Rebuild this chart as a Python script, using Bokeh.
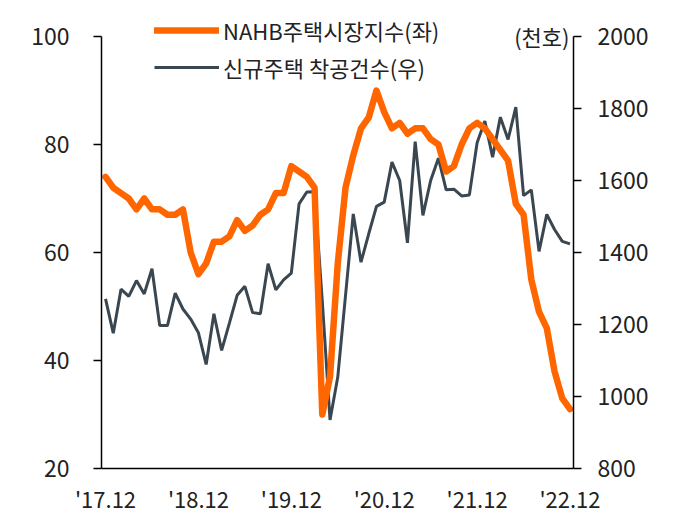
from bokeh.plotting import figure
from bokeh.models import (Range1d, LinearAxis, FixedTicker, Legend, LegendItem, Label)
from bokeh.embed import file_html
from bokeh.resources import INLINE

# NAHB housing market index (left axis)
nahb = [74, 72, 71, 70, 68, 70, 68, 68, 67, 67, 68, 60, 56,
        58, 62, 62, 63, 66, 64, 65, 67, 68, 71, 71, 76,
        75, 74, 72, 30, 37, 58, 72, 78, 83, 85, 90, 86,
        83, 84, 82, 83, 83, 81, 80, 75, 76, 80, 83, 84,
        83, 81, 79, 77, 69, 67, 55, 49, 46, 38, 33, 31]

# New housing starts, thousand units (right axis)
starts = [1271, 1176, 1298, 1278, 1322, 1285, 1355, 1197, 1197, 1287, 1243, 1215, 1177,
          1089, 1230, 1128, 1204, 1281, 1306, 1233, 1230, 1369, 1296, 1324, 1343,
          1535, 1568, 1569, 1265, 935, 1054, 1280, 1507, 1373, 1452, 1528, 1540,
          1651, 1600, 1427, 1708, 1503, 1600, 1662, 1574, 1576, 1557, 1560, 1705,
          1765, 1665, 1776, 1714, 1804, 1558, 1574, 1403, 1506, 1464, 1431, 1424]

x_idx = list(range(len(nahb)))
tick_pos = [0, 12, 24, 36, 48, 60]
tick_labels = ["'17.12", "'18.12", "'19.12", "'20.12", "'21.12", "'22.12"]
left_ticks = [20, 40, 60, 80, 100]
right_ticks = [800, 1000, 1200, 1400, 1600, 1800, 2000]

series_names = ["NAHB주택시장지수(좌)", "신규주택 착공건수(우)"]
unit_label = "(천호)"

FONT = "Noto Sans CJK KR"
ORANGE = "#FF6600"
GRAY = "#3B4750"
TXT = "#222222"

p = figure(width=673, height=518, output_backend="svg", toolbar_location=None,
           x_range=Range1d(-0.52, 60.45), y_range=Range1d(20, 106.67),
           min_border_left=101, min_border_right=100, min_border_top=0,
           min_border_bottom=50, y_axis_location="left")
p.extra_y_ranges = {"right": Range1d(800, 2100)}
p.outline_line_color = None
p.xgrid.visible = False
p.ygrid.visible = False
p.background_fill_color = "white"
p.border_fill_color = "white"

r_gray = p.line(x_idx, starts, y_range_name="right", line_color=GRAY, line_width=3)
r_or = p.line(x_idx, nahb, line_color=ORANGE, line_width=6.5, line_join="round", line_cap="round")

# x axis
xa = p.xaxis[0]
xa.ticker = FixedTicker(ticks=tick_pos)
xa.major_label_overrides = {t: l for t, l in zip(tick_pos, tick_labels)}
xa.major_tick_line_color = None
xa.minor_tick_line_color = None
xa.axis_line_color = "black"
xa.axis_line_width = 1.5
xa.major_label_text_font = FONT
xa.major_label_text_font_size = "22px"
xa.major_label_text_color = TXT
xa.major_label_standoff = 7

# left axis
ya = p.yaxis[0]
ya.ticker = FixedTicker(ticks=left_ticks)
ya.bounds = (20, 100)
ya.major_tick_out = 8
ya.major_tick_in = 0
ya.minor_tick_line_color = None
ya.axis_line_color = "black"
ya.axis_line_width = 1.5
ya.major_tick_line_width = 1.5
ya.major_label_text_font = FONT
ya.major_label_text_font_size = "23px"
ya.major_label_text_color = TXT
ya.major_label_standoff = 24

# right axis
ra = LinearAxis(y_range_name="right", ticker=FixedTicker(ticks=right_ticks))
ra.bounds = (800, 2000)
ra.major_tick_out = 8
ra.major_tick_in = 0
ra.minor_tick_line_color = None
ra.axis_line_color = "black"
ra.axis_line_width = 1.5
ra.major_tick_line_width = 1.5
ra.major_label_text_font = FONT
ra.major_label_text_font_size = "23px"
ra.major_label_text_color = TXT
ra.major_label_standoff = 16
p.add_layout(ra, "right")

legend = Legend(items=[LegendItem(label=series_names[0], renderers=[r_or]),
                       LegendItem(label=series_names[1], renderers=[r_gray])],
                location=(53, 385), orientation="vertical",
                glyph_width=65, glyph_height=28, label_height=28, label_standoff=4,
                spacing=5, padding=0, margin=0,
                label_text_font=FONT, label_text_font_size="22px",
                label_text_color=TXT,
                border_line_color=None, background_fill_alpha=0)
p.add_layout(legend, "center")

unit = Label(x=468, y=433, x_units="screen", y_units="screen", text=unit_label,
             text_align="right", text_baseline="middle",
             text_font=FONT, text_font_size="22px", text_color=TXT)
p.add_layout(unit)

open("out.html", "w").write(file_html(p, INLINE))
